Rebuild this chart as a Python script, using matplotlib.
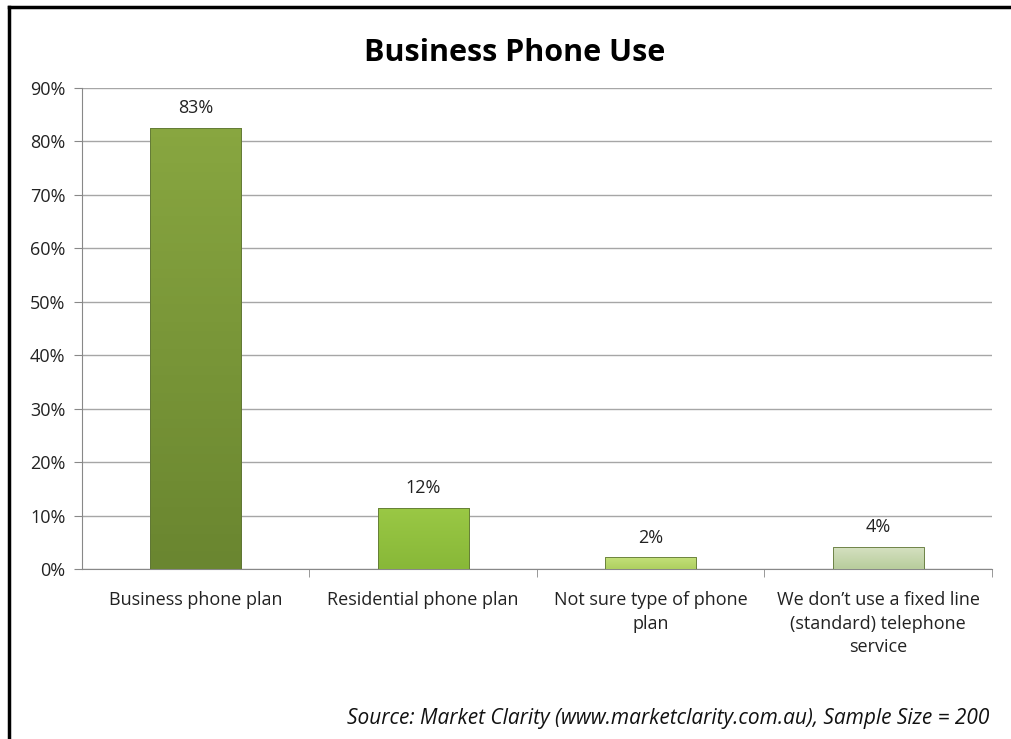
import numpy as np
import matplotlib.pyplot as plt
from matplotlib.lines import Line2D
from matplotlib.colors import LinearSegmentedColormap

# Chart data
categories = [
    "Business phone plan",
    "Residential phone plan",
    "Not sure type of phone\nplan",
    "We don\u2019t use a fixed line\n(standard) telephone\nservice",
]
values = [82.5, 11.5, 2.2, 4.2]
value_labels = ["83%", "12%", "2%", "4%"]
# (top, bottom) shade of each bar
bar_tops = ["#88a640", "#9ac845", "#c4e07a", "#d6e2c2"]
bar_bottoms = ["#6a8630", "#88b838", "#aed060", "#b8cc9c"]
y_ticks = [0, 10, 20, 30, 40, 50, 60, 70, 80, 90]

plt.rcParams['font.family'] = ['Open Sans', 'DejaVu Sans']

fig = plt.figure(figsize=(10.11, 7.39), dpi=100)
ax = fig.add_axes([0.0811, 0.23, 0.9001, 0.6509])

x = np.arange(len(categories))
bars = ax.bar(x, values, width=0.4, color=bar_bottoms, edgecolor='#5f7536',
              linewidth=0.6, zorder=3)

# vertical shading on each bar, lighter at the top
for b, top, bot in zip(bars, bar_tops, bar_bottoms):
    x0, y0 = b.get_x(), b.get_y()
    w, h = b.get_width(), b.get_height()
    cmap = LinearSegmentedColormap.from_list('g', [bot, top])
    grad = np.linspace(0, 1, 50).reshape(-1, 1)
    im = ax.imshow(grad, cmap=cmap, vmin=0, vmax=1, aspect='auto', origin='lower',
                   extent=(x0, x0 + w, y0, y0 + h), zorder=3.5)
    im.set_clip_path(b)
    ax.bar(b.get_x() + w / 2, h, width=w, fill=False, edgecolor='#5f7536',
           linewidth=0.6, zorder=4)

for xi, v, lab in zip(x, values, value_labels):
    ax.text(xi, v + 2.0, lab, ha='center', va='bottom', fontsize=13, color='#222222')

ax.set_xlim(-0.5, len(categories) - 0.5)
ax.set_ylim(0, 90)
ax.set_yticks(y_ticks)
ax.set_yticklabels([f"{t}%" for t in y_ticks], fontsize=13, color='#222222')
ax.set_xticks(x)
ax.set_xticklabels(categories, fontsize=13, linespacing=1.4, color='#222222')
ax.set_xticks(np.arange(len(categories)) + 0.5, minor=True)
ax.tick_params(axis='x', which='major', length=0, pad=16)
ax.tick_params(axis='x', which='minor', length=6, color='#888888', direction='out')
ax.tick_params(axis='y', length=6, color='#888888', pad=6)
ax.grid(axis='y', color='#a6a6a6', linewidth=1, zorder=0)
ax.set_axisbelow(True)
for s in ['top', 'right']:
    ax.spines[s].set_visible(False)
ax.spines['left'].set_color('#888888')
ax.spines['bottom'].set_color('#888888')

fig.text(0.509, 0.928, "Business Phone Use", ha='center', va='center',
         fontsize=22, fontweight='bold')
fig.text(0.979, 0.028, "Source: Market Clarity (www.marketclarity.com.au), Sample Size = 200",
         ha='right', va='center', fontsize=15, style='italic', color='#111111')

# outer frame (only left and top edges are visible in the reference)
fig.add_artist(Line2D([0.009, 0.009], [0.0, 0.991], color='black', linewidth=2.5,
                      transform=fig.transFigure))
fig.add_artist(Line2D([0.009, 1.0], [0.991, 0.991], color='black', linewidth=2.5,
                      transform=fig.transFigure))

fig.savefig("out.png", dpi=100)
